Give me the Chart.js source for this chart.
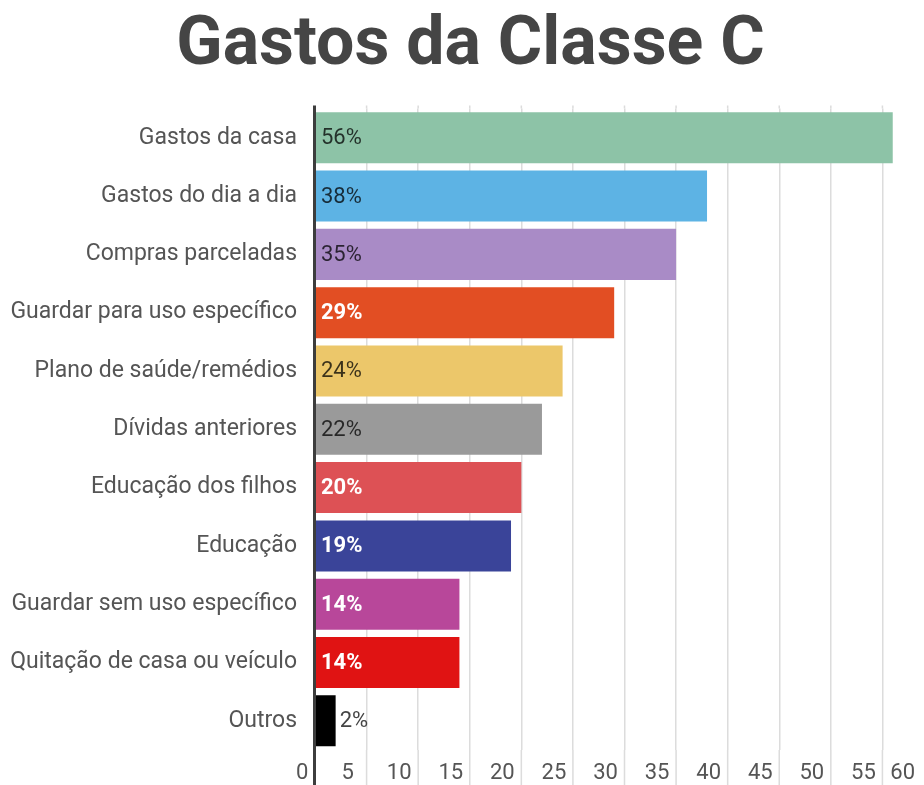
<!DOCTYPE html>
<html>
<head>
<meta charset="utf-8">
<script src="https://cdn.jsdelivr.net/npm/chart.js@4.4.0/dist/chart.umd.min.js"></script>
<style>
  html, body { margin: 0; padding: 0; background: #fff; overflow: hidden; }
  #wrap { position: relative; width: 934px; height: 785px; }
</style>
</head>
<body>
<div id="wrap"><canvas id="barChart"></canvas></div>
<script>
const categories = [
  'Gastos da casa',
  'Gastos do dia a dia',
  'Compras parceladas',
  'Guardar para uso específico',
  'Plano de saúde/remédios',
  'Dívidas anteriores',
  'Educação dos filhos',
  'Educação',
  'Guardar sem uso específico',
  'Quitação de casa ou veículo',
  'Outros'
];
const values = [56, 38, 35, 29, 24, 22, 20, 19, 14, 14, 2];
const tickValues = [0, 5, 10, 15, 20, 25, 30, 35, 40, 45, 50, 55, 60];

// colours per bar, and which value labels are white/bold
const barColors = [
  '#8dc3a7', '#5db3e4', '#a98bc6', '#e24e23', '#ecc76a', '#9a9a9a',
  '#dd5155', '#3a4499', '#b8479a', '#e01313', '#000000'
];
const whiteLabels = [false, false, false, true, false, false, true, true, true, true, false];

// gridlines run past the plot down to the bottom edge, axis line drawn on top
const gridExtend = {
  id: 'gridExtend',
  beforeDatasetsDraw(chart) {
    const ctx = chart.ctx;
    const area = chart.chartArea;
    const xs = chart.scales.x;
    ctx.save();
    ctx.strokeStyle = '#dcdcdc';
    ctx.lineWidth = 1.5;
    xs.ticks.forEach((t, i) => {
      if (t.value === 0) return;
      const px = xs.getPixelForTick(i);
      ctx.beginPath();
      ctx.moveTo(px, area.top - 3);
      ctx.lineTo(px, area.top);
      ctx.moveTo(px, area.bottom);
      ctx.lineTo(px, chart.height);
      ctx.stroke();
    });
    ctx.restore();
  },
  afterDatasetsDraw(chart) {
    const ctx = chart.ctx;
    const area = chart.chartArea;
    ctx.save();
    ctx.strokeStyle = '#3d3d3d';
    ctx.lineWidth = 3;
    ctx.beginPath();
    ctx.moveTo(area.left - 0.5, area.top - 3);
    ctx.lineTo(area.left - 0.5, chart.height);
    ctx.stroke();
    ctx.restore();
  }
};

const valueLabels = {
  id: 'valueLabels',
  afterDatasetsDraw(chart) {
    const ctx = chart.ctx;
    const meta = chart.getDatasetMeta(0);
    ctx.save();
    ctx.textBaseline = 'middle';
    ctx.textAlign = 'left';
    meta.data.forEach((bar, i) => {
      const text = values[i] + '%';
      const light = whiteLabels[i];
      ctx.font = (light ? 'bold ' : '') + '22px Roboto';
      const w = ctx.measureText(text).width;
      let x = chart.chartArea.left + 6;
      if (x + w > bar.x) {
        x = bar.x + 4;
        ctx.fillStyle = '#444';
      } else {
        ctx.fillStyle = light ? '#fff' : 'rgba(0,0,0,0.75)';
      }
      ctx.fillText(text, x, bar.y + 1);
    });
    ctx.restore();
  }
};

new Chart(document.getElementById('barChart'), {
  type: 'bar',
  data: {
    labels: categories,
    datasets: [{
      data: values,
      backgroundColor: barColors,
      barPercentage: 0.875,
      categoryPercentage: 1
    }]
  },
  options: {
    indexAxis: 'y',
    responsive: true,
    maintainAspectRatio: false,
    animation: false,
    layout: { padding: { left: 7, right: 0, top: 0, bottom: 0 } },
    plugins: {
      legend: { display: false },
      tooltip: { enabled: false },
      title: {
        display: true,
        text: 'Gastos da Classe C',
        color: '#454545',
        font: { family: 'Roboto', size: 68, weight: 'bold' },
        padding: { top: 6, bottom: 21 }
      }
    },
    scales: {
      x: {
        min: tickValues[0],
        max: tickValues[tickValues.length - 1],
        afterFit: s => { s.paddingLeft = 0; s.paddingRight = 0; s.height = 35; },
        border: { display: false },
        grid: {
          color: c => (c.tick && c.tick.value === 0) ? 'rgba(0,0,0,0)' : '#dcdcdc',
          lineWidth: 1.5,
          drawTicks: false
        },
        ticks: {
          stepSize: tickValues[1] - tickValues[0],
          color: '#555',
          font: { family: 'Roboto', size: 22 },
          padding: 10,
          labelOffset: -19,
          align: 'inner',
          maxRotation: 0,
          autoSkip: false
        }
      },
      y: {
        afterFit: s => { s.width = 308; },
        border: { display: false },
        grid: { display: false, drawTicks: false },
        ticks: {
          color: '#555',
          font: { family: 'Roboto', size: 23 },
          padding: 18,
          autoSkip: false
        }
      }
    }
  },
  plugins: [gridExtend, valueLabels]
});
</script>
</body>
</html>
